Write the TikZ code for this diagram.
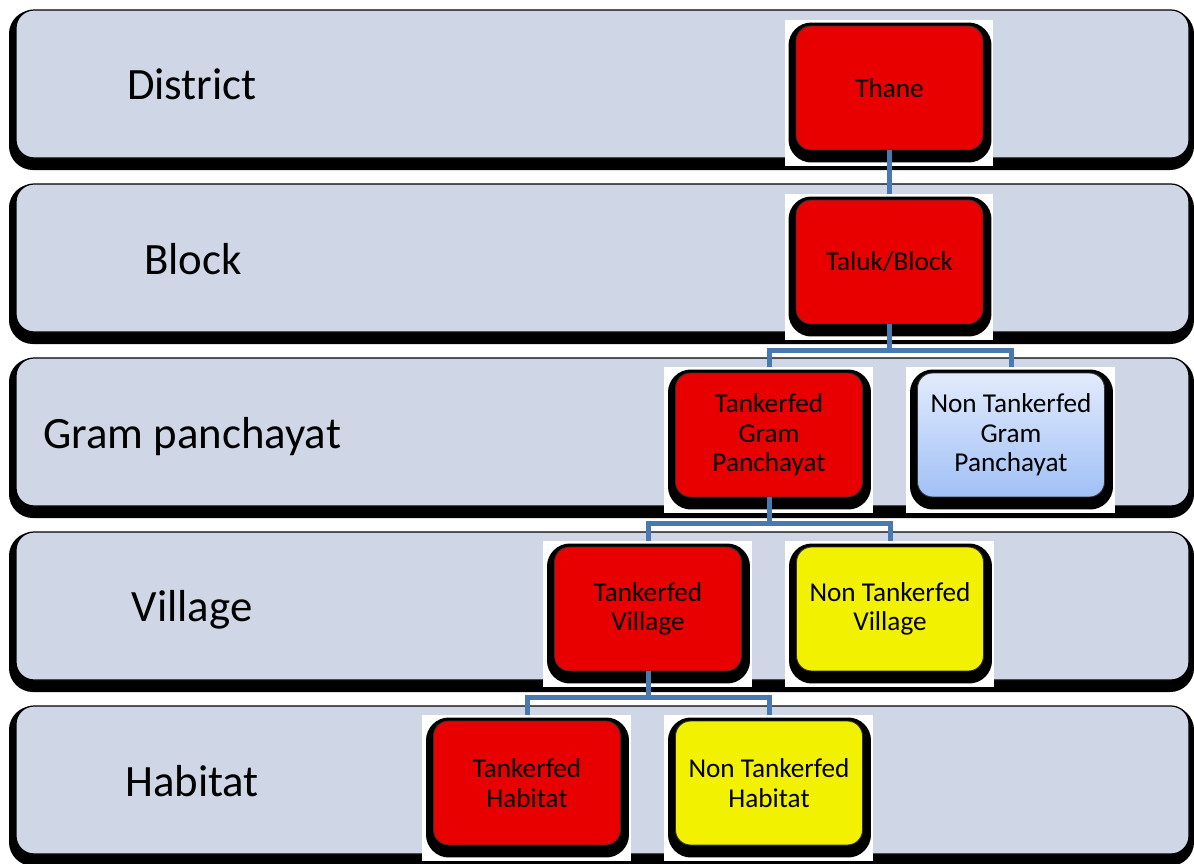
\documentclass[tikz,border=0pt]{standalone}
\usepackage{fontspec}
\setmainfont{Carlito}
\usetikzlibrary{positioning,calc,backgrounds}
\pgfdeclarelayer{bands}
\pgfsetlayers{bands,background,main}
\definecolor{bandfill}{RGB}{207,215,231}
\definecolor{tankred}{RGB}{232,0,0}
\definecolor{plainyellow}{RGB}{242,242,0}
\definecolor{gptop}{RGB}{226,235,252}
\definecolor{gpbottom}{RGB}{160,192,246}
\definecolor{linkblue}{RGB}{74,120,176}

\begin{document}
\begin{tikzpicture}[
  x=0.02cm, y=-0.02cm,
  band/.style={draw=black, line width=0.7pt, fill=bandfill, rounded corners=0.36cm,
    preaction={draw=black, fill=black, line width=0.24cm, transform canvas={xshift=-0.02cm, yshift=-0.12cm}}},
  level/.style={font=\fontsize{25.5}{30}\selectfont, anchor=base, inner sep=0pt},
  unit/.style={draw=black!80, line width=0.5pt, rounded corners=0.3cm, minimum width=3.74cm, minimum height=2.48cm,
    inner sep=2pt, align=center, font=\fontsize{15.5}{16.8}\selectfont,
    preaction={draw=black, fill=black, line width=0.32cm, transform canvas={xshift=0.01cm, yshift=-0.09cm}}},
  tanker/.style={unit, fill=tankred},
  plain/.style={unit, fill=plainyellow},
  gpbox/.style={unit, top color=gptop, bottom color=gpbottom},
  link/.style={draw=linkblue, line width=0.1cm, shorten >=0.12cm}
]
  \useasboundingbox (0,0) rectangle (1194,863);

  % level bands
  \begin{pgfonlayer}{bands}
    \fill[white] (0,0) rectangle (1194,863);
    \foreach \i in {0,...,4}
      \draw[band] (16,{10+174*\i}) rectangle (1189,{158+174*\i});
  \end{pgfonlayer}

  \node[level] (lvdistrict) at (192,99) {District};
  \node[level] (lvblock) at (193,274) {Block};
  \node[level, anchor=base west] (lvgp) at (43,448) {Gram panchayat};
  \node[level] (lvvillage) at (192,621) {Village};
  \node[level] (lvhabitat) at (192,796) {Habitat};

  % units
  \node[tanker] (thane) at (889.5,88) {Thane};
  \node[tanker] (taluk) at (889.5,262) {Taluk/Block};
  \node[tanker] (tgp) at (769,435) {Tankerfed\\Gram\\Panchayat};
  \node[gpbox] (ngp) at (1011,435) {Non Tankerfed\\Gram\\Panchayat};
  \node[tanker] (tvil) at (648,609) {Tankerfed\\Village};
  \node[plain] (nvil) at (890,609) {Non Tankerfed\\Village};
  \node[tanker] (thab) at (527,783) {Tankerfed\\Habitat};
  \node[plain] (nhab) at (769,783) {Non Tankerfed\\Habitat};

  \begin{scope}[on background layer]
    \foreach \n in {thane,taluk,tgp,ngp,tvil,nvil,thab,nhab}
      \fill[white] ($(\n.north west)+(-11,-6)$) rectangle ($(\n.south east)+(10,16)$);
  \end{scope}

  % tree links
  \draw[link] (thane.south) -- (taluk.north);
  \draw[link] (taluk.south) -- ++(0,26) -| (tgp.north);
  \draw[link] (taluk.south) ++(0,26) -| (ngp.north);
  \draw[link] (tgp.south) -- ++(0,26) -| (tvil.north);
  \draw[link] (tgp.south) ++(0,26) -| (nvil.north);
  \draw[link] (tvil.south) -- ++(0,26) -| (thab.north);
  \draw[link] (tvil.south) ++(0,26) -| (nhab.north);
\end{tikzpicture}
\end{document}
